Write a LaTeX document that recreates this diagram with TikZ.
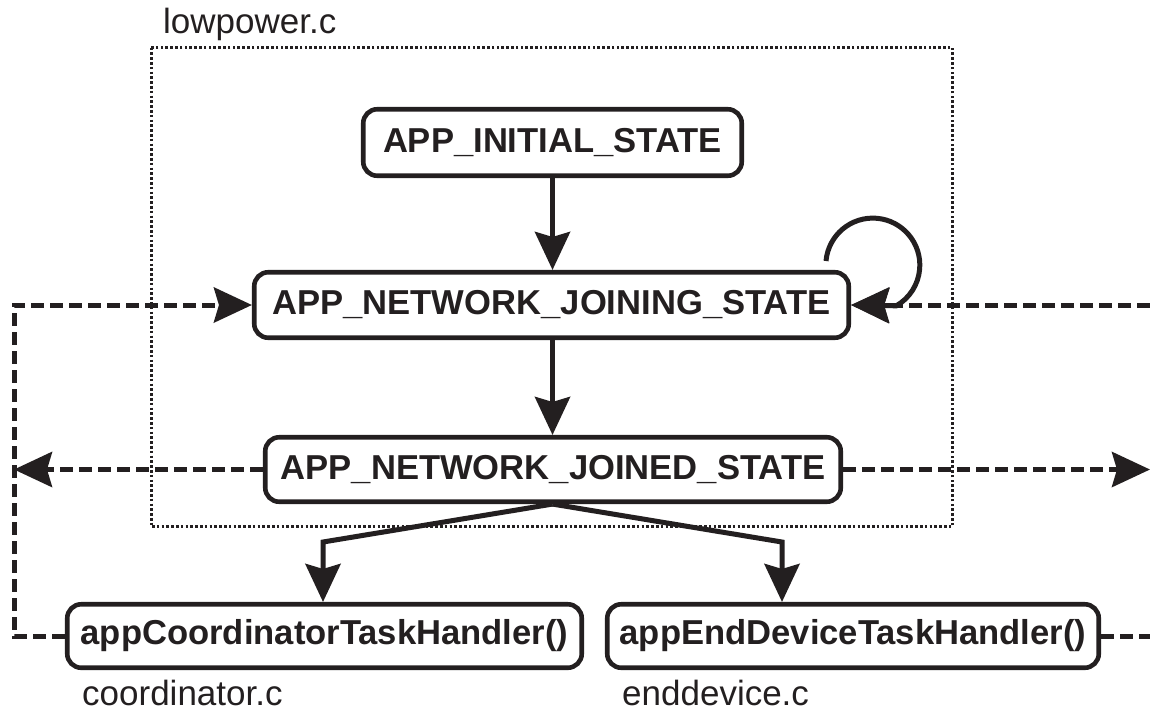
\documentclass[tikz,border=0pt]{standalone}
\usepackage{fontspec}
\setmainfont{Liberation Sans}
\usetikzlibrary{arrows.meta,calc}
\definecolor{ink}{HTML}{231F20}
\tikzset{
  statebox/.style={draw=ink, line width=4.6pt, rounded corners=14pt, inner sep=0pt,
    text=ink, font=\fontsize{34.6}{40}\selectfont\bfseries},
  filelabel/.style={text=ink, inner sep=0pt, anchor=base west, font=\fontsize{35}{40}\selectfont},
  conn/.style={draw=ink, line width=5pt, -{Stealth[length=38pt, width=35pt, inset=5pt]}},
  dashconn/.style={draw=ink, line width=5pt, dash pattern=on 13pt off 6pt},
  tipend/.style={-{Stealth[length=38pt, width=35pt, inset=5pt]}},
  dotframe/.style={draw=ink, line width=3pt, dash pattern=on 2.6pt off 2.2pt}
}
\begin{document}
\begin{tikzpicture}[x=1pt, y=-1pt]
\useasboundingbox (0,0) rectangle (1150,713);
% dotted frame
\draw[dotframe] (151,47.5) rectangle (952.5,526.5);
\node[filelabel] (lp) at (163,33) {lowpower.c};
% states
\node[statebox, minimum width=378.5pt, minimum height=66.5pt] (n1) at (552.5,142.5) {APP\_INITIAL\_STATE};
\node[statebox, minimum width=594.5pt, minimum height=65.5pt] (n2) at (551.5,305) {APP\_NETWORK\_JOINING\_STATE};
\node[statebox, minimum width=575.5pt, minimum height=64.5pt] (n3) at (553,469.5) {APP\_NETWORK\_JOINED\_STATE};
\node[statebox, minimum width=514.5pt, minimum height=63.5pt] (n4) at (324.5,636) {appCoordinatorTaskHandler()};
\node[statebox, minimum width=491.5pt, minimum height=63.5pt] (n5) at (853,636) {appEndDeviceTaskHandler()};
\node[filelabel] (cl) at (82,705) {coordinator.c};
\node[filelabel] (el) at (622,705) {enddevice.c};
% helper coordinates
\coordinate (cx) at (552.5,0);
\coordinate (lx) at (14,0);
\coordinate (rx) at (1150,0);
\coordinate (k4) at (323,542);
\coordinate (k5) at (782,542);
\coordinate (ls) at (826,261);
% vertical flow
\draw[conn] (n1.south -| cx) -- (n2.north -| cx);
\draw[conn] (n2.south -| cx) -- (n3.north -| cx);
% branches
\draw[conn] (n3.south -| cx) -- (k4) -- (k4 |- n4.north);
\draw[conn] (n3.south -| cx) -- (k5) -- (k5 |- n5.north);
% self loop
\draw[conn] (ls) arc[start angle=-175, end angle=60, radius=47] -- (n2.east);
% dashed connectors left
\draw[dashconn, tipend] (n4.west) -| (lx |- n2.west) -- (n2.west);
\draw[dashconn, tipend] (n3.west) -- (n3.west -| lx);
% dashed connectors right
\draw[dashconn, tipend] (n2.east -| rx) -- (n2.east);
\draw[dashconn, tipend] (n3.east) -- (n3.east -| rx);
\draw[dashconn] (n5.east) -- (n5.east -| rx);
\end{tikzpicture}
\end{document}
